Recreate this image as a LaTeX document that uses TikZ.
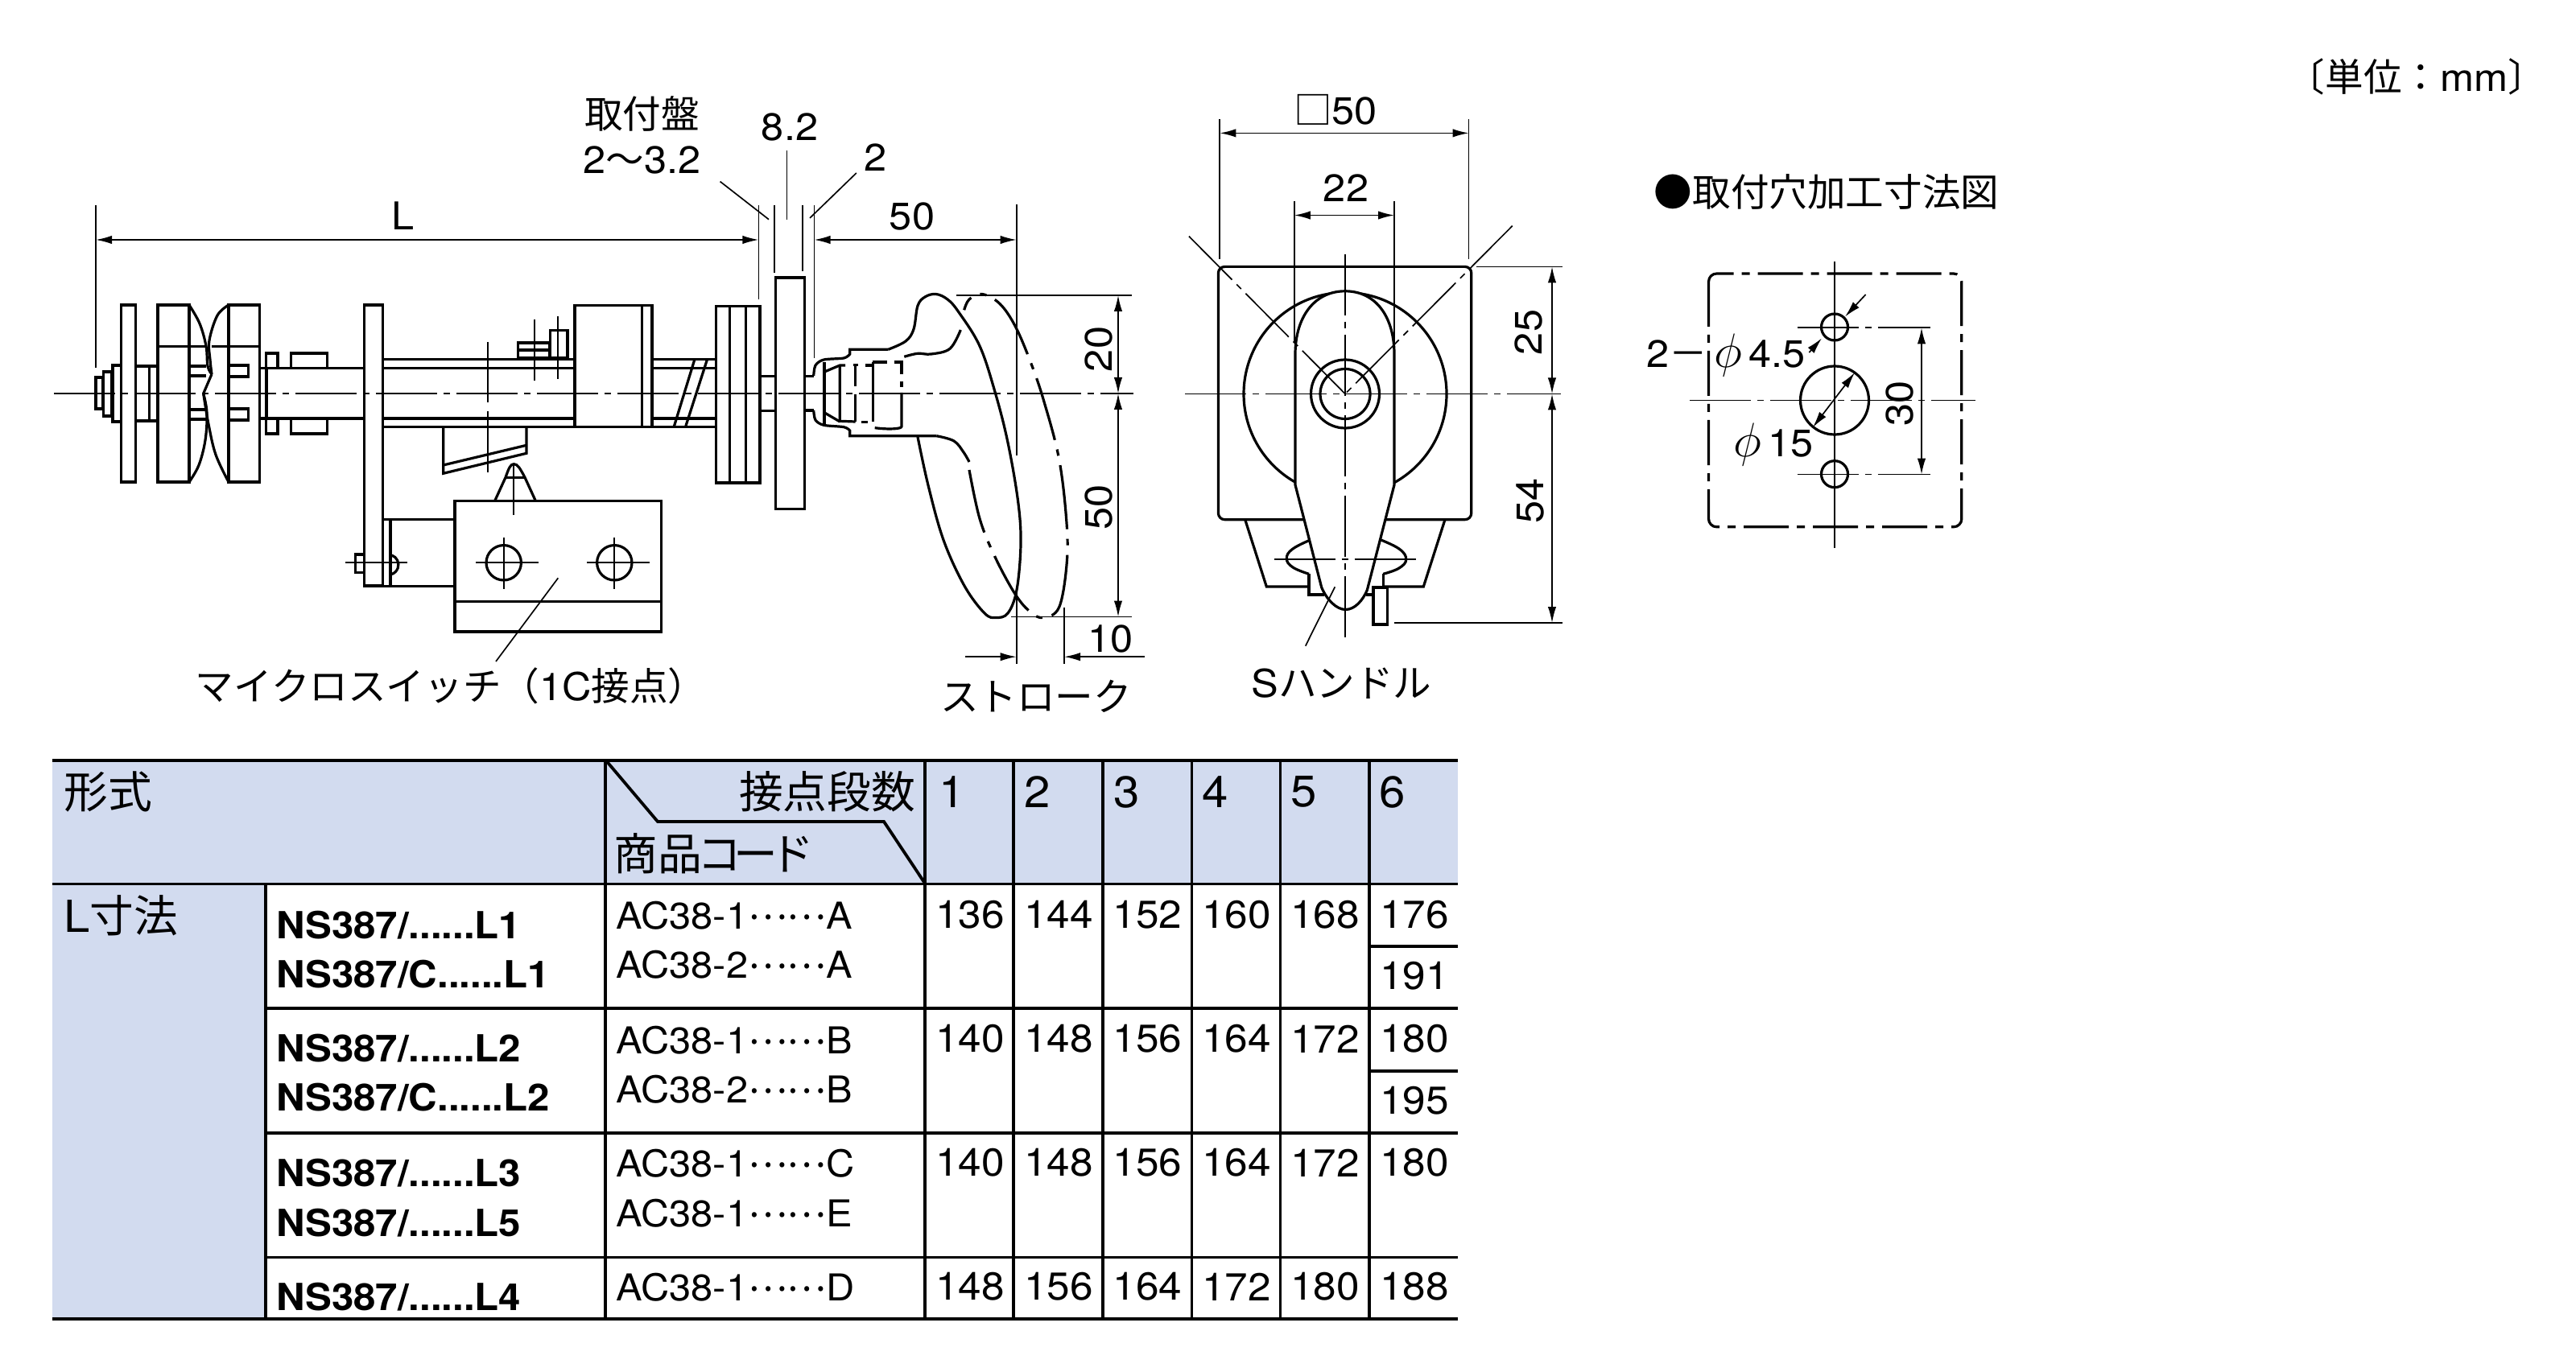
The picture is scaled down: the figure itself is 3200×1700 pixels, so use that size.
\documentclass[tikz,border=0pt]{standalone}
\usepackage{fontspec}
\setmainfont{TeX Gyre Heros}[FakeStretch=1.06]
\newfontfamily\jpfont{Noto Sans CJK JP}
\newcommand{\jp}[1]{{\jpfont #1}}
\newcommand{\codedots}{\raisebox{.26em}{\jp{……}}}
\newcommand{\diam}{\scalebox{1.25}{$\phi$}}
\definecolor{tablefill}{HTML}{D2DBEF}
\usetikzlibrary{arrows.meta}

\begin{document}
\begin{tikzpicture}[x=0.25pt,y=-0.25pt,
		>={Latex[length=5pt,width=2.6pt]},
		part/.style={line width=0.8pt,line join=miter},
		thin line/.style={line width=0.42pt},
		dimline/.style={line width=0.42pt},
		center line/.style={line width=0.42pt,dash pattern=on 19pt off 2pt on 2pt off 2pt},
		phantom line/.style={line width=0.8pt,dash pattern=on 20pt off 3pt on 2pt off 3pt},
		panel line/.style={line width=0.8pt,dash pattern=on 14pt off 2.5pt on 2.5pt off 2.5pt},
		rule line/.style={line width=0.95pt},
		txt label/.style={inner sep=0pt,font=\fontsize{11.9}{14}\selectfont},
		head label/.style={inner sep=0pt,font=\fontsize{13.7}{16}\selectfont},
		code label/.style={inner sep=0pt,anchor=west,font=\fontsize{11.5}{14}\selectfont},
		type label/.style={inner sep=0pt,anchor=west,font=\fontsize{11.6}{14}\selectfont\bfseries},
		num label/.style={inner sep=0pt,font=\fontsize{12.1}{14}\selectfont}]
	\useasboundingbox (0,0) rectangle (3200,1700);

	% side view, dimension points
	\path (119,255) coordinate (lext_t);
	\path (119,457) coordinate (lext_b);
	\path (119,298) coordinate (l_l);
	\path (942.4,298) coordinate (l_r);
	\path (942.4,255) coordinate (pext_t);
	\path (942.4,371.6) coordinate (pext_b);
	\path (962,255) coordinate (aext_t);
	\path (962,339) coordinate (aext_b);
	\path (997,255) coordinate (bext_t);
	\path (997,337) coordinate (bext_b);
	\path (1011.5,255) coordinate (cext_t);
	\path (1011.5,445) coordinate (cext_b);
	\path (977.5,187) coordinate (mid_t);
	\path (977.5,272.7) coordinate (mid_b);
	\path (894.6,225.6) coordinate (pnl_t);
	\path (955,272.7) coordinate (pnl_b);
	\path (1063.8,215) coordinate (two_t);
	\path (1006,271) coordinate (two_b);
	\path (1011.5,298) coordinate (hl_l);
	\path (1262.7,298) coordinate (hl_r);
	\path (1262.7,254.5) coordinate (hext_t);
	\path (1262.7,566) coordinate (hext_b);
	\path (1389,367) coordinate (up_t);
	\path (1389,489) coordinate (up_m);
	\path (1389,766.5) coordinate (up_b);
	\path (1188,367) coordinate (uext_l);
	\path (1406,367) coordinate (uext_r);
	\path (1256.4,766.5) coordinate (dext_l);
	\path (1406,766.5) coordinate (dext_r);
	\path (1262.7,728) coordinate (st_at);
	\path (1262.7,825) coordinate (st_ab);
	\path (1322,754.5) coordinate (st_bt);
	\path (1322,825) coordinate (st_bb);
	\path (1199,816.2) coordinate (st_lf);
	\path (1262.7,816.2) coordinate (st_a);
	\path (1422,816.2) coordinate (st_rf);
	\path (1322,816.2) coordinate (st_b);
	\path (693.3,718.3) coordinate (sw_t);
	\path (616,822) coordinate (sw_b);

	% side view, left end
	\draw[center line] (67,489) -- (1408,489);
	\draw[part] (119,469) rectangle (127.3,508);
	\draw[part] (128.7,462) rectangle (139,517);
	\draw[part] (140,454) rectangle (150.7,524);
	\draw[part] (150.7,379) rectangle (168.3,599);
	\draw[part] (168.3,455) rectangle (196,523);
	\draw[part] (185.7,455) -- (185.7,523);
	\draw[part] (196,379) rectangle (235,599);
	\draw[part] (196,430.7) -- (256.5,430.7);
	\draw[part] (263,430.7) -- (322.7,430.7);
	\draw[part] (284,379) rectangle (322.7,599);
	\draw[part] (235,455) -- (256,455) (235,467) -- (256,467);
	\draw[part] (235,509) -- (256,509) (235,521) -- (256,521);
	\draw[part] (284,454) -| (308.3,468) -- (284,468);
	\draw[part] (284,508) -| (308.3,522) -- (284,522);
	\draw[part] plot[smooth,tension=.6] coordinates {(235,379) (248,402) (256,430) (258,455) (263,465)};
	\draw[part] (263,465) -- (252.7,489);
	\draw[part] plot[smooth,tension=.6] coordinates {(252.7,489) (257,513) (255,547) (247,578) (235,599)};
	\draw[part] plot[smooth,tension=.6] coordinates {(284,379) (270,392) (260,423) (261,447) (263,465)};
	\draw[part] plot[smooth,tension=.6] coordinates {(252.7,489) (259,527) (268,565) (284,599)};

	% shaft and plate
	\draw[part] (322.7,457.3) -- (452.7,457.3) (322.7,520) -- (452.7,520);
	\draw[part] (331,457.3) -- (331,520);
	\draw[part] (330.7,439) rectangle (345,457.3);
	\draw[part] (330.7,520) rectangle (345,539);
	\draw[part] (361.7,439) rectangle (406.7,457.3);
	\draw[part] (361.7,520) rectangle (406.7,539);
	\draw[part] (452.7,379) rectangle (475.7,728);
	\draw[part] (475.7,446.7) -- (714,446.7) (475.7,457.3) -- (714,457.3);
	\draw[part] (475.7,520) -- (714,520) (475.7,530.7) -- (714,530.7);
	\draw[part] (714,379.3) rectangle (810,530.7);
	\draw[part] (797.3,379.3) -- (797.3,530.7);
	\draw[part] (810,446.7) -- (889.3,446.7) (810,457.3) -- (889.3,457.3);
	\draw[part] (810,520) -- (889.3,520) (810,530.7) -- (889.3,530.7);
	\draw[part] (862.7,447.3) -- (837.3,530);
	\draw[part] (878.3,447.3) -- (851.7,530);
	\draw[part] (889.3,380.7) rectangle (944,600);
	\draw[part] (906.7,380.7) -- (906.7,600);
	\draw[part] (926.7,380.7) -- (926.7,600);
	\draw[part] (944,467.3) -- (963.3,467.3) (944,510.7) -- (963.3,510.7);
	\draw[part] (963.3,345) rectangle (999.3,632.3);
	\draw[part] (999.3,467.3) -- (1010.7,467.3) (999.3,510) -- (1010.7,510);
	\draw[part] (643.3,426) rectangle (682.7,445);
	\draw[part] (643.3,435) -- (682.7,435);
	\draw[part] (683.3,410.7) rectangle (705,445);
	\draw[part] (550.7,531.7) -- (550.7,588.3) -- (654,563.3) -- (654,531.7);
	\draw[part] (550.7,578) -- (654,553.3);
	\draw[thin line] (606,425) -- (606,500) (606,511) -- (606,586.7);
	\draw[thin line] (664,396.7) -- (664,473);
	\draw[thin line] (693.3,393) -- (693.3,470.7);

	% micro switch
	\draw[part] (475.7,645.7) -- (565,645.7) (475.7,728.3) -- (565,728.3);
	\draw[part] (485,645.7) -- (485,728.3);
	\draw[part] (441.7,689) rectangle (452.7,711.7);
	\draw[part] (486.7,690) arc[start angle=-70,end angle=70,radius=12.5] ;
	\draw[thin line] (429.3,699.3) -- (506,699.3);
	\draw[part] (565,622.7) rectangle (821.7,785);
	\draw[part] (565,747.3) -- (821.7,747.3);
	\draw[part] (615,621.7) -- (628,593.3) .. controls (632,582) and (634,576.7) .. (638.3,576.7) .. controls (643,576.7) and (646,582) .. (652,593.3) -- (665,621.7);
	\draw[part] (628,593.3) -- (652,593.3);
	\draw[thin line] (638,577) -- (638,640);
	\draw[part] (625.7,699.3) circle[radius=21.7];
	\draw[part] (763.3,699.3) circle[radius=21.7];
	\draw[thin line] (591,699.3) -- (669,699.3) (625.7,668) -- (625.7,731.7);
	\draw[thin line] (729,699.3) -- (806.7,699.3) (763.3,668) -- (763.3,731.7);

	% side view, handle
	\draw[part] plot[smooth,tension=.5] coordinates {(1010.7,467) (1013,454) (1023.3,447) (1048.3,445) (1055.7,440)} -- (1055.7,434.3) -- (1103.3,434.3);
	\draw[part] plot[smooth,tension=.5] coordinates {(1010.7,510) (1013,522) (1023.3,528.3) (1048.3,530.7) (1055.7,535)} -- (1055.7,541.7) -- (1163.3,541.7);
	\draw[part] plot[smooth,tension=.6] coordinates {(1103.3,434.3) (1125,424) (1135,409) (1140,380) (1149,369) (1162.6,365.5) (1177,372) (1191,388) (1217,430) (1236,487) (1252,550) (1264.7,623.6) (1268,676) (1263,733) (1252,762) (1237,767.5) (1223,762) (1198,728) (1172,671) (1153,603) (1140,543)};
	\draw[part] plot[smooth,tension=.6] coordinates {(1163.3,541.7) (1185,548) (1197,562) (1204,574)};
	\draw[phantom line] plot[smooth,tension=.6] coordinates {(1204,584) (1217,644.5) (1236,692) (1261.5,739) (1280.6,761) (1296.6,767.5) (1315.7,754.5) (1325,702) (1325,650) (1315.7,571) (1296.6,498) (1280.6,451) (1261.5,406) (1242,377.5) (1220,365.5) (1204,372) (1197.7,385.3)};
	\draw[part] plot[smooth,tension=.6] coordinates {(1123.3,443.3) (1140,439.3) (1156.7,440) (1180,433.3) (1193.3,410)};
	\draw[part] (1024,450) -- (1024,526.7);
	\draw[part] (1025,461.7) -- (1043.3,454) -- (1050,454);
	\draw[part] (1043.3,454) -- (1043.3,523.3) -- (1062.7,524);
	\draw[part] (1025,513.3) -- (1043.3,524);
	\draw[part] (1060,453.3) -- (1066,453.3);
	\draw[part] (1062.7,453.3) -- (1062.7,480) (1062.7,490) -- (1062.7,524);
	\draw[part] (1075,454) -- (1084.3,454);
	\draw[part] (1084.3,450) -- (1084.3,524);
	\draw[part] (1084.3,450) -- (1101.7,450);
	\draw[part] (1110.7,450) -- (1120,450) -- (1120,465);
	\draw[part] (1120,474) -- (1120,481);
	\draw[part] (1070,524.3) -- (1078.3,524.3);
	\draw[part] (1120,488) -- (1120,530) .. controls (1120,533) and (1105,534) .. (1086.7,531.7);

	% side view, dimensions
	\draw[thin line] (lext_t) -- (lext_b);
	\draw[dimline,<->] (l_l) -- (l_r);
	\draw[thin line] (pext_t) -- (pext_b);
	\draw[thin line] (aext_t) -- (aext_b);
	\draw[thin line] (bext_t) -- (bext_b);
	\draw[thin line] (cext_t) -- (cext_b);
	\draw[thin line] (mid_t) -- (mid_b);
	\draw[thin line] (pnl_t) -- (pnl_b);
	\draw[thin line] (two_t) -- (two_b);
	\draw[dimline,<->] (hl_l) -- (hl_r);
	\draw[thin line] (hext_t) -- (hext_b);
	\draw[thin line] (uext_l) -- (uext_r);
	\draw[thin line] (dext_l) -- (dext_r);
	\draw[dimline,<->] (up_t) -- (up_m);
	\draw[dimline,<->] (up_m) -- (up_b);
	\draw[thin line] (st_at) -- (st_ab);
	\draw[thin line] (st_bt) -- (st_bb);
	\draw[dimline,->] (st_lf) -- (st_a);
	\draw[dimline,->] (st_rf) -- (st_b);
	\draw[thin line] (sw_t) -- (sw_b);

	\node[txt label] (plate_a) at (797.6,141.8) {\jp{取付盤}};
	\node[txt label] (plate_b) at (797.6,199.4) {2\jp{～}3.2};
	\node[txt label] (dim_mid) at (981,157.5) {8.2};
	\node[txt label] (dim_l) at (501,268.5) {L};
	\node[txt label] (dim_two) at (1088,195.8) {2};
	\node[txt label] (dim_hl) at (1133,268.6) {50};
	\node[txt label,rotate=90] (dim_up) at (1364.8,434) {20};
	\node[txt label,rotate=90] (dim_dn) at (1364.8,630) {50};
	\node[txt label] (dim_st) at (1379.5,793.7) {10};
	\node[txt label] (stroke) at (1287,865.4) {\jp{ストローク}};
	\node[txt label,anchor=west] (switch) at (242,852) {\jp{マイクロスイッチ（}1C\jp{接点）}};

	% front view, dimension points
	\path (1515.3,148) coordinate (sq_lt);
	\path (1515.3,322.5) coordinate (sq_lb);
	\path (1824.6,148) coordinate (sq_rt);
	\path (1824.6,322.5) coordinate (sq_rb);
	\path (1515.3,165.4) coordinate (sq_l);
	\path (1824.6,165.4) coordinate (sq_r);
	\path (1607.8,250) coordinate (hw_lt);
	\path (1607.8,424.6) coordinate (hw_lb);
	\path (1732,250) coordinate (hw_rt);
	\path (1732,424.6) coordinate (hw_rb);
	\path (1607.8,267.5) coordinate (hw_l);
	\path (1732,267.5) coordinate (hw_r);
	\path (1671,489.5) coordinate (axis);
	\path (1477,293.7) coordinate (diag_l);
	\path (1878.8,280.6) coordinate (diag_r);
	\path (1834,331.4) coordinate (fext_tl);
	\path (1940.7,331.4) coordinate (fext_tr);
	\path (1732.3,774) coordinate (fext_bl);
	\path (1940.7,774) coordinate (fext_br);
	\path (1928,331.4) coordinate (fd_t);
	\path (1928,489.5) coordinate (fd_m);
	\path (1928,774) coordinate (fd_b);
	\path (1658.3,729.3) coordinate (sh_t);
	\path (1621.7,802.7) coordinate (sh_b);

	% front view
	\draw[part,rounded corners=2pt] (1513.4,331.4) rectangle (1827.8,645.7);
	\draw[part] (1671,489.5) circle[radius=126];
	\draw[part] (1546.7,645.7) -- (1573.3,729) -- (1626,729);
	\draw[part] (1795,645.7) -- (1768.3,729) -- (1718.3,729);
	\draw[part] (1626,713.3) -- (1626,739) -- (1645,739);
	\draw[part] (1696.7,739) -- (1706,739);
	\draw[part] (1718.3,713.3) -- (1718.3,729);
	\draw[part] plot[smooth,tension=.7] coordinates {(1630,670) (1606,682) (1598.3,694) (1606,705) (1626,713.3)};
	\draw[part] plot[smooth,tension=.7] coordinates {(1713,670) (1738,682) (1746.7,695) (1738,706) (1718.3,713.3)};
	\draw[part,fill=white] (1671,361.8) .. controls (1632,361.8) and (1609,395) .. (1609,440) -- (1609,602.6) -- (1641.7,730) .. controls (1648,745) and (1660,757.5) .. (1671.5,757.5) .. controls (1683,757.5) and (1693,746) .. (1698.3,733.3) -- (1732,602.6) -- (1732,440) .. controls (1732,395) and (1710,361.8) .. (1671,361.8) -- cycle;
	\draw[part,fill=white] (1706,730) rectangle (1723.3,776);
	\draw[part] (1671,489.5) circle[radius=42.5];
	\draw[part] (1671,489.5) circle[radius=31];
	\draw[center line] (1671,315.7) -- (1671,797.4);
	\draw[center line] (1472,489.5) -- (1938.8,489.5);
	\draw[center line] (1582.7,695) -- (1760.7,695);
	\draw[center line] (diag_l) -- (axis);
	\draw[center line] (diag_r) -- (axis);

	% front view, dimensions
	\draw[thin line] (sq_lt) -- (sq_lb);
	\draw[thin line] (sq_rt) -- (sq_rb);
	\draw[dimline,<->] (sq_l) -- (sq_r);
	\draw[thin line] (hw_lt) -- (hw_lb);
	\draw[thin line] (hw_rt) -- (hw_rb);
	\draw[dimline,<->] (hw_l) -- (hw_r);
	\draw[thin line] (fext_tl) -- (fext_tr);
	\draw[thin line] (fext_bl) -- (fext_br);
	\draw[dimline,<->] (fd_t) -- (fd_m);
	\draw[dimline,<->] (fd_m) -- (fd_b);
	\draw[thin line] (sh_t) -- (sh_b);

	\node[txt label] (dim_sq) at (1659,136) {\jp{□}50};
	\node[txt label] (dim_hw) at (1672,233.5) {22};
	\node[txt label,rotate=90] (dim_ft) at (1899,413) {25};
	\node[txt label,rotate=90] (dim_fb) at (1900.5,622.5) {54};
	\node[txt label] (handle) at (1666.5,848.7) {S\jp{ハンドル}};

	% mounting hole figure, dimension points
	\path (2387,407.3) coordinate (h30_t);
	\path (2387,589.6) coordinate (h30_b);
	\path (2317.6,366) coordinate (sm_a);
	\path (2292,393.5) coordinate (sm_at);
	\path (2247.4,438) coordinate (sm_b);
	\path (2263,420.4) coordinate (sm_bt);
	\path (2304,463) coordinate (big_a);
	\path (2252,531) coordinate (big_b);

	\draw[panel line,rounded corners=2.5pt] (2122.5,340) rectangle (2436.8,654.8);
	\draw[thin line] (2279,324.7) -- (2279,680.6);
	\draw[center line] (2099.4,497.5) -- (2454.4,497.5);
	\draw[center line] (2232.7,407.3) -- (2398,407.3);
	\draw[center line] (2232.7,589.6) -- (2398,589.6);
	\draw[part] (2279,497.5) circle[radius=42.5];
	\draw[part] (2279,406.5) circle[radius=16.5];
	\draw[part] (2279,589.2) circle[radius=16.5];
	\draw[dimline,<->] (h30_t) -- (h30_b);
	\draw[dimline,->] (sm_a) -- (sm_at);
	\draw[dimline,->] (sm_b) -- (sm_bt);
	\draw[dimline,<->] (big_a) -- (big_b);

	\node[txt label,anchor=west] (title) at (2054,238) {\jp{●取付穴加工寸法図}};
	\node[txt label,anchor=west] (unit) at (2840,95) {\jp{〔単位：}mm\jp{〕}};
	\node[txt label,rotate=90] (dim_h30) at (2359.7,501.4) {30};
	\node[txt label,anchor=west] (dim_small) at (2045,441) {2\jp{－}\,\diam\,4.5};
	\node[txt label,anchor=west] (dim_big) at (2153,553) {\diam\,15};

	% table
	\fill[fill=tablefill] (65.3,945) rectangle (1811,1098.5);
	\fill[fill=tablefill] (65.3,1098.5) rectangle (329.7,1639.3);
	\draw[rule line] (65.3,945) -- (1811,945);
	\draw[rule line] (65.3,1098.5) -- (1811,1098.5);
	\draw[rule line] (329.7,1253.3) -- (1811,1253.3);
	\draw[rule line] (329.7,1408) -- (1811,1408);
	\draw[rule line] (329.7,1562.4) -- (1811,1562.4);
	\draw[rule line] (65.3,1639.3) -- (1811,1639.3);
	\draw[rule line] (1701,1176.3) -- (1811,1176.3);
	\draw[rule line] (1701,1331) -- (1811,1331);
	\draw[rule line] (329.7,1098.5) -- (329.7,1639.3);
	\draw[rule line] (752,945) -- (752,1639.3);
	\draw[rule line] (1149,945) -- (1149,1639.3);
	\draw[rule line] (1259,945) -- (1259,1639.3);
	\draw[rule line] (1370,945) -- (1370,1639.3);
	\draw[rule line] (1480.5,945) -- (1480.5,1639.3);
	\draw[rule line] (1590.5,945) -- (1590.5,1639.3);
	\draw[rule line] (1701,945) -- (1701,1639.3);
	\draw[rule line] (754,946.5) -- (817,1021) -- (1098,1021) -- (1148.5,1097);

	\node[head label,anchor=west] (h_type) at (78.6,984) {\jp{形式}};
	\node[head label,anchor=east] (h_steps) at (1138,984) {\jp{接点段数}};
	\node[head label,anchor=west] (h_code) at (762,1061) {\jp{商品\kern-1.5pt コ\kern-2.5pt ー\kern-2.5pt ド}};
	\node[head label,anchor=west] (h_ldim) at (78.6,1137.6) {L\jp{寸法}};
	\node[head label,anchor=west] (h_c1) at (1165.4,984) {1};
	\node[head label,anchor=west] (h_c2) at (1272,984) {2};
	\node[head label,anchor=west] (h_c3) at (1382.6,984) {3};
	\node[head label,anchor=west] (h_c4) at (1492.6,984) {4};
	\node[head label,anchor=west] (h_c5) at (1602.7,984) {5};
	\node[head label,anchor=west] (h_c6) at (1713,984) {6};

	\node[type label] (t_l1a) at (343,1149.4) {NS387/......L1};
	\node[type label] (t_l1b) at (343,1210.8) {NS387/C......L1};
	\node[type label] (t_l2a) at (343,1302.8) {NS387/......L2};
	\node[type label] (t_l2b) at (343,1364) {NS387/C......L2};
	\node[type label] (t_l3) at (343,1457.6) {NS387/......L3};
	\node[type label] (t_l5) at (343,1520) {NS387/......L5};
	\node[type label] (t_l4) at (343,1612) {NS387/......L4};

	\node[code label] (c_a1) at (764.7,1137.6) {AC38-1\codedots A};
	\node[code label] (c_a2) at (764.7,1199) {AC38-2\codedots A};
	\node[code label] (c_b1) at (764.7,1292.4) {AC38-1\codedots B};
	\node[code label] (c_b2) at (764.7,1353.8) {AC38-2\codedots B};
	\node[code label] (c_c1) at (764.7,1445.8) {AC38-1\codedots C};
	\node[code label] (c_e1) at (764.7,1508) {AC38-1\codedots E};
	\node[code label] (c_d1) at (764.7,1600) {AC38-1\codedots D};

	\node[num label] (r1c1) at (1205,1136.7) {136};
	\node[num label] (r1c2) at (1315,1136.7) {144};
	\node[num label] (r1c3) at (1425.5,1136.7) {152};
	\node[num label] (r1c4) at (1536,1136.7) {160};
	\node[num label] (r1c5) at (1646,1136.7) {168};
	\node[num label] (r1c6) at (1757,1136.7) {176};
	\node[num label] (r1d6) at (1757,1213) {191};
	\node[num label] (r2c1) at (1205,1291) {140};
	\node[num label] (r2c2) at (1315,1291) {148};
	\node[num label] (r2c3) at (1425.5,1291) {156};
	\node[num label] (r2c4) at (1536,1291) {164};
	\node[num label] (r2c5) at (1646,1291) {172};
	\node[num label] (r2c6) at (1757,1291) {180};
	\node[num label] (r2d6) at (1757,1368) {195};
	\node[num label] (r3c1) at (1205,1445) {140};
	\node[num label] (r3c2) at (1315,1445) {148};
	\node[num label] (r3c3) at (1425.5,1445) {156};
	\node[num label] (r3c4) at (1536,1445) {164};
	\node[num label] (r3c5) at (1646,1445) {172};
	\node[num label] (r3c6) at (1757,1445) {180};
	\node[num label] (r4c1) at (1205,1599) {148};
	\node[num label] (r4c2) at (1315,1599) {156};
	\node[num label] (r4c3) at (1425.5,1599) {164};
	\node[num label] (r4c4) at (1536,1599) {172};
	\node[num label] (r4c5) at (1646,1599) {180};
	\node[num label] (r4c6) at (1757,1599) {188};
\end{tikzpicture}
\end{document}
